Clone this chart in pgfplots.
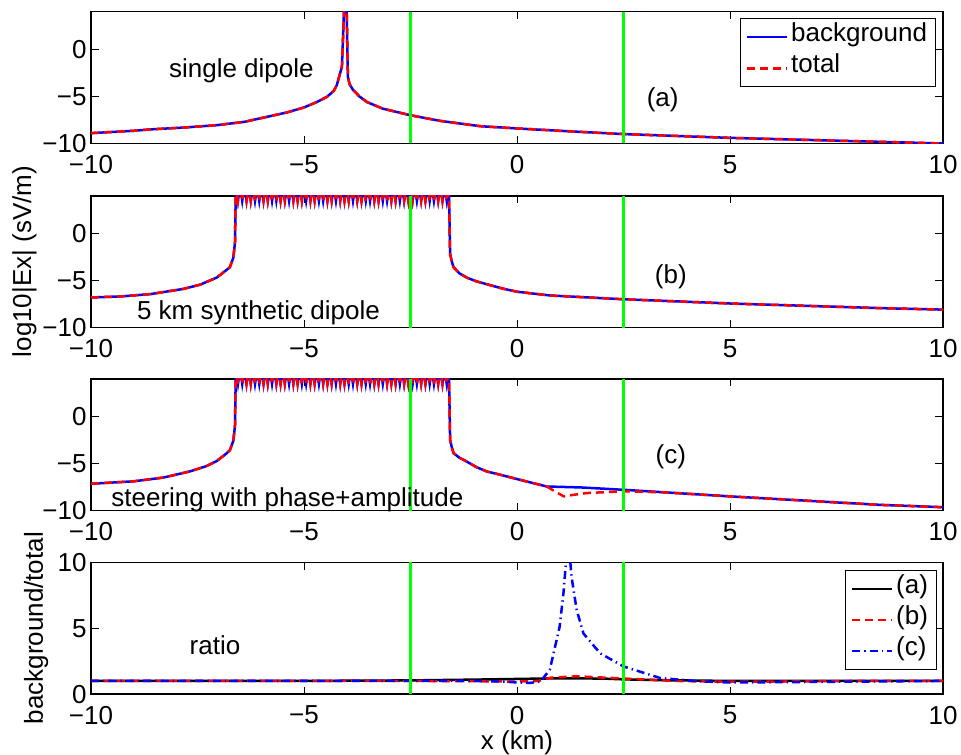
\documentclass[border=0pt]{standalone}
\usepackage{fontspec}
\setmainfont{Liberation Sans}
\usepackage{pgfplots}
\pgfplotsset{compat=1.18}
\usepackage{pgfplotstable}

\newcommand\fsz{\fontsize{13pt}{15.6pt}\selectfont}

% panel (b): background = total
\pgfplotstableread{
x y
-10 -6.81
-9.3 -6.7
-8.6 -6.45
-7.83 -5.9
-7.44 -5.45
-7.05 -4.7
-6.85 -4.0
-6.74 -3.6
-6.66 -2.6
-6.62 -1.0
-6.6 5
-6.55 3.45
-6.5 5
-6.45 3.45
-6.4 5
-6.35 3.45
-6.3 5
-6.25 3.45
-6.2 5
-6.15 3.45
-6.1 5
-6.05 3.45
-6.0 5
-5.95 3.45
-5.9 5
-5.85 3.45
-5.8 5
-5.75 3.45
-5.7 5
-5.65 3.45
-5.6 5
-5.55 3.45
-5.5 5
-5.45 3.45
-5.4 5
-5.35 3.45
-5.3 5
-5.25 3.45
-5.2 5
-5.15 3.45
-5.1 5
-5.05 3.45
-5.0 5
-4.95 3.45
-4.9 5
-4.85 3.45
-4.8 5
-4.75 3.45
-4.7 5
-4.65 3.45
-4.6 5
-4.55 3.45
-4.5 5
-4.45 3.45
-4.4 5
-4.35 3.45
-4.3 5
-4.25 3.45
-4.2 5
-4.15 3.45
-4.1 5
-4.05 3.45
-4.0 5
-3.95 3.45
-3.9 5
-3.85 3.45
-3.8 5
-3.75 3.45
-3.7 5
-3.65 3.45
-3.6 5
-3.55 3.45
-3.5 5
-3.45 3.45
-3.4 5
-3.35 3.45
-3.3 5
-3.25 3.45
-3.2 5
-3.15 3.45
-3.1 5
-3.05 3.45
-3.0 5
-2.95 3.45
-2.9 5
-2.85 3.45
-2.8 5
-2.75 3.45
-2.7 5
-2.65 3.45
-2.6 5
-2.55 3.45
-2.5 5
-2.45 3.45
-2.4 5
-2.35 3.45
-2.3 5
-2.25 3.45
-2.2 5
-2.15 3.45
-2.1 5
-2.05 3.45
-2.0 5
-1.95 3.45
-1.9 5
-1.85 3.45
-1.8 5
-1.75 3.45
-1.7 5
-1.65 3.45
-1.6 5
-1.58 0
-1.57 -2.2
-1.53 -3.0
-1.49 -3.6
-1.35 -4.25
-1.18 -4.7
-0.95 -5.1
-0.71 -5.4
-0.35 -5.85
0 -6.2
0.78 -6.6
2.5 -7.0
5 -7.45
8.52 -7.94
10 -8.1
}\dataB

% panel (c): background
\pgfplotstableread{
x y
-10 -7.16
-9 -6.9
-8.3 -6.5
-7.68 -5.85
-7.3 -5.3
-7.05 -4.75
-6.85 -4.05
-6.74 -3.6
-6.66 -2.6
-6.62 -1.0
-6.6 5
-6.55 3.45
-6.5 5
-6.45 3.45
-6.4 5
-6.35 3.45
-6.3 5
-6.25 3.45
-6.2 5
-6.15 3.45
-6.1 5
-6.05 3.45
-6.0 5
-5.95 3.45
-5.9 5
-5.85 3.45
-5.8 5
-5.75 3.45
-5.7 5
-5.65 3.45
-5.6 5
-5.55 3.45
-5.5 5
-5.45 3.45
-5.4 5
-5.35 3.45
-5.3 5
-5.25 3.45
-5.2 5
-5.15 3.45
-5.1 5
-5.05 3.45
-5.0 5
-4.95 3.45
-4.9 5
-4.85 3.45
-4.8 5
-4.75 3.45
-4.7 5
-4.65 3.45
-4.6 5
-4.55 3.45
-4.5 5
-4.45 3.45
-4.4 5
-4.35 3.45
-4.3 5
-4.25 3.45
-4.2 5
-4.15 3.45
-4.1 5
-4.05 3.45
-4.0 5
-3.95 3.45
-3.9 5
-3.85 3.45
-3.8 5
-3.75 3.45
-3.7 5
-3.65 3.45
-3.6 5
-3.55 3.45
-3.5 5
-3.45 3.45
-3.4 5
-3.35 3.45
-3.3 5
-3.25 3.45
-3.2 5
-3.15 3.45
-3.1 5
-3.05 3.45
-3.0 5
-2.95 3.45
-2.9 5
-2.85 3.45
-2.8 5
-2.75 3.45
-2.7 5
-2.65 3.45
-2.6 5
-2.55 3.45
-2.5 5
-2.45 3.45
-2.4 5
-2.35 3.45
-2.3 5
-2.25 3.45
-2.2 5
-2.15 3.45
-2.1 5
-2.05 3.45
-2.0 5
-1.95 3.45
-1.9 5
-1.85 3.45
-1.8 5
-1.75 3.45
-1.7 5
-1.65 3.45
-1.6 5
-1.58 0
-1.57 -2.5
-1.53 -3.3
-1.49 -3.9
-1.35 -4.4
-1.18 -4.8
-0.95 -5.4
-0.71 -5.85
-0.35 -6.25
0 -6.66
0.7 -7.45
1.5 -7.55
2.5 -7.8
3.5 -8.08
5 -8.5
8.52 -9.4
10 -9.65
}\dataCbg

% panel (c): total, differs from background after x = 0.7
\pgfplotstableread{
x y
0.7 -7.45
0.9 -8.0
1.1 -8.5
1.3 -8.35
1.63 -8.15
2.5 -7.95
3.5 -8.08
5 -8.5
8.52 -9.4
10 -9.65
}\dataCtail

\pgfplotsset{
  panel/.style={
    scale only axis, width=426pt, height=65.9pt,
    xmin=-10, xmax=10,
    xtick={-10,-5,0,5,10}, xticklabels={−10,−5,0,5,10},
    tick align=inside, major tick length=3.8pt,
    tick style={line width=0.4pt, black},
    axis line style={line width=0.8pt},
    tick label style={font=\fsz},
    xticklabel style={yshift=-2.4pt},
    yticklabel style={xshift=1.3pt},
    label style={font=\fsz},
    clip mode=individual,
    legend style={font=\fsz, draw=black, line width=0.5pt, fill=white,
      inner xsep=3pt, inner ysep=1.4pt, row sep=0pt, column sep=0pt,
      nodes={inner xsep=1.25pt, inner ysep=0pt, text height=10pt, text depth=5.6pt}},
    legend cell align=left,
    legend image code/.code={\draw[##1] (0pt,0pt) -- (20pt,0pt);},
  },
  logpanel/.style={panel, ymin=-10, ymax=4, ytick={-10,-5,0}, yticklabels={−10,−5,0}},
  bg/.style={blue, line width=1.25pt},
  tot/.style={red, line width=1.25pt, dash pattern=on 4pt off 2.5pt},
  grn/.style={color=green, line width=1.5pt, forget plot},
}

\begin{document}
\begin{tikzpicture}
\path[use as bounding box] (-45.5pt,5.85pt) rectangle (435pt,-371.15pt);

% ---------------- panel (a)
\begin{axis}[logpanel, at={(0pt,0pt)}, anchor=north west,
  legend style={at={(1,1)}, anchor=north east, xshift=-3.5pt, yshift=-3.3pt}]
\addplot[bg] coordinates {(-10,-8.9) (-9,-8.65) (-8.6,-8.5) (-7.8,-8.3) (-7.04,-8.05) (-6.4,-7.7) (-5.87,-7.17) (-5.4,-6.7) (-5.0,-6.17) (-4.7,-5.6) (-4.46,-5.04) (-4.3,-4.4) (-4.23,-3.8) (-4.11,-1.85) (-4.08,1.7) (-4.04,7) (-4.01,7) (-3.97,-2.9) (-3.93,-3.7) (-3.85,-4.3) (-3.7,-5.0) (-3.52,-5.6) (-3.15,-6.3) (-2.5,-7.0) (-1.8,-7.6) (-0.87,-8.16) (0,-8.4) (1.2,-8.7) (2.5,-9.0) (5,-9.4) (7.5,-9.7) (10,-10)};
\addlegendentry{background}
\addplot[tot] coordinates {(-10,-8.9) (-9,-8.65) (-8.6,-8.5) (-7.8,-8.3) (-7.04,-8.05) (-6.4,-7.7) (-5.87,-7.17) (-5.4,-6.7) (-5.0,-6.17) (-4.7,-5.6) (-4.46,-5.04) (-4.3,-4.4) (-4.23,-3.8) (-4.11,-1.85) (-4.08,1.7) (-4.04,7) (-4.01,7) (-3.97,-2.9) (-3.93,-3.7) (-3.85,-4.3) (-3.7,-5.0) (-3.52,-5.6) (-3.15,-6.3) (-2.5,-7.0) (-1.8,-7.6) (-0.87,-8.16) (0,-8.4) (1.2,-8.7) (2.5,-9.0) (5,-9.4) (7.5,-9.7) (10,-10)};
\addlegendentry{total}
\addplot[grn] coordinates {(-2.5,-10) (-2.5,4)};
\addplot[grn] coordinates {(2.5,-10) (2.5,4)};
\node[font=\fsz] at (axis cs:-6.47,-2.29) {single dipole};
\node[font=\fsz] at (axis cs:3.42,-5.37) {(a)};
\end{axis}

% ---------------- panel (b)
\begin{axis}[logpanel, at={(0pt,-92pt)}, anchor=north west,
  ylabel={log10|Ex| (sV/m)},
  ylabel style={at={(axis description cs:-0.0556,0.5)}, anchor=south, rotate=0}]
\addplot[bg] table[x=x,y=y] {\dataB};
\addplot[tot] table[x=x,y=y] {\dataB};
\addplot[grn] coordinates {(-2.5,-10) (-2.5,4)};
\addplot[grn] coordinates {(2.5,-10) (2.5,4)};
\node[font=\fsz] at (axis cs:-6.07,-8.44) {5 km synthetic dipole};
\node[font=\fsz] at (axis cs:3.61,-4.58) {(b)};
\end{axis}

% ---------------- panel (c)
\begin{axis}[logpanel, at={(0pt,-183.5pt)}, anchor=north west]
\addplot[bg] table[x=x,y=y] {\dataCbg};
\addplot[tot] table[x=x,y=y, restrict x to domain=-20:0.7] {\dataCbg};
\addplot[tot, forget plot] table[x=x,y=y] {\dataCtail};
\addplot[grn] coordinates {(-2.5,-10) (-2.5,4)};
\addplot[grn] coordinates {(2.5,-10) (2.5,4)};
\node[font=\fsz] at (axis cs:-5.39,-8.86) {steering with phase+amplitude};
\node[font=\fsz] at (axis cs:3.61,-4.26) {(c)};
\end{axis}

% ---------------- panel ratio
\begin{axis}[panel, at={(0pt,-275.3pt)}, anchor=north west,
  ymin=0, ymax=10, ytick={0,5,10}, yticklabels={0,5,10},
  xlabel={x (km)},
  xlabel style={at={(axis description cs:0.5,-0.222)}, anchor=north},
  ylabel={background/total},
  ylabel style={at={(axis description cs:-0.0418,0.5)}, anchor=south, rotate=0},
  legend style={at={(1,1)}, anchor=north east, xshift=-3pt, yshift=-3.8pt}]
\addplot[black, line width=1.25pt] coordinates {(-10,1) (-5,1) (-2.5,1.04) (-1,1.1) (0,1.15) (1,1.2) (2,1.18) (2.5,1.12) (3.5,1.05) (5,1.0) (10,1.0)};
\addlegendentry{(a)}
\addplot[tot] coordinates {(-10,1) (-5,1) (-2.5,1.0) (-1,0.98) (0,0.95) (0.5,1.0) (0.8,1.25) (1.4,1.35) (2.26,1.22) (3.04,1.1) (3.74,1.0) (4.5,0.95) (6,0.95) (8,1.0) (10,1.0)};
\addlegendentry{(b)}
\addplot[blue, line width=1.25pt, dash pattern=on 4pt off 2pt on 0.7pt off 2pt] coordinates {(-10,1) (-2.5,1) (-1,1.0) (-0.3,0.95) (0,0.88) (0.3,0.85) (0.55,0.95) (0.77,1.85) (1.0,5.1) (1.09,7.65) (1.2,12) (1.28,8.9) (1.4,6.4) (1.56,4.6) (1.95,3.1) (2.5,2.1) (3.36,1.22) (4.3,0.97) (5,0.88) (6,0.9) (8,0.95) (10,1.0)};
\addlegendentry{(c)}
\addplot[grn] coordinates {(-2.5,0) (-2.5,10)};
\addplot[grn] coordinates {(2.5,0) (2.5,10)};
\node[font=\fsz] at (axis cs:-7.09,3.74) {ratio};
\end{axis}
\end{tikzpicture}
\end{document}
